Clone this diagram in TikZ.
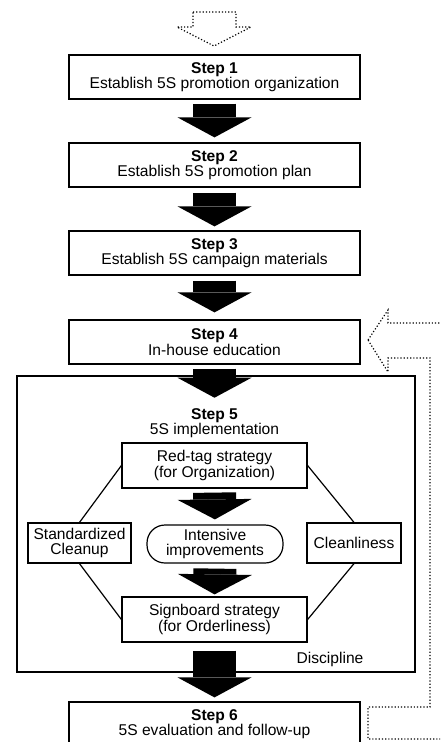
\documentclass[tikz,border=0pt]{standalone}
\usepackage{fontspec}
\setmainfont{Liberation Sans}
\usetikzlibrary{arrows.meta}

\tikzset{
    every node/.style={font=\fontsize{7.8}{7.8}\selectfont, align=center, inner sep=0pt},
    stepbox/.style={draw, line width=0.6pt, minimum width=145.5pt, minimum height=22pt},
    subbox/.style={draw, line width=0.6pt, minimum height=22.5pt},
    bigarrow/.style={line width=21.5pt, -{Triangle[width=37pt, length=10pt, line width=0pt]}},
    outline/.style={line width=0.6pt, densely dotted}
}

\begin{document}
\begin{tikzpicture}[x=0.5pt, y=-0.5pt]
        \useasboundingbox (0,0) rectangle (440,742);
        \clip (0,0) rectangle (440,742);

        % hollow arrow on top
        \draw[outline] (193,12) -- (236,12) -- (236,27) -- (251,27) -- (214,46) -- (177,27) -- (193,27) -- cycle;

        \node[stepbox] (s1) at (214.5,77) {\textbf{Step 1}\\Establish 5S promotion organization};
        \node[stepbox] (s2) at (214.5,165) {\textbf{Step 2}\\Establish 5S promotion plan};
        \node[stepbox] (s3) at (214.5,253) {\textbf{Step 3}\\Establish 5S campaign materials};
        \node[stepbox] (s4) at (214.5,342) {\textbf{Step 4}\\In-house education};

        % step 5 frame
        \node[draw, line width=0.6pt, minimum width=199pt, minimum height=148pt] (impl) at (216,524) {};
        \node (l5) at (214.5,423) {\textbf{Step 5}\\5S implementation};
        \node[subbox, minimum width=92.5pt] (redtag) at (214.5,465.5) {Red-tag strategy\\(for Organization)};
        \node[draw, line width=0.6pt, rounded corners=9pt, minimum width=68pt, minimum height=19pt] (intens) at (215,544) {Intensive\\improvements};
        \node[subbox, minimum width=51.5pt, minimum height=20pt] (std) at (79.5,543) {Standardized\\Cleanup};
        \node[subbox, minimum width=47pt, minimum height=20pt] (clean) at (354,543) {Cleanliness};
        \node[subbox, minimum width=92.5pt] (sign) at (214.5,619.5) {Signboard strategy\\(for Orderliness)};
        \node (disc) at (330,659) {Discipline};

        \node[stepbox] (s6) at (214.5,724) {\textbf{Step 6}\\5S evaluation and follow-up};

        % octagon
        \draw[line width=0.6pt] (std.north) -- (redtag.west);
        \draw[line width=0.6pt] (redtag.east) -- (clean.north);
        \draw[line width=0.6pt] (clean.south) -- (sign.east);
        \draw[line width=0.6pt] (sign.west) -- (std.south);

        % black arrows
        \draw[bigarrow, shorten <=2pt, shorten >=2.5pt] (s1.south) -- (s2.north);
        \draw[bigarrow, shorten <=2.5pt, shorten >=2pt] (s2.south) -- (s3.north);
        \draw[bigarrow, shorten <=2.5pt, shorten >=3.5pt] (s3.south) -- (s4.north);
        \draw[bigarrow, shorten <=2pt, shorten >=5pt] (s4.south) -- (l5.north);
        \draw[bigarrow, shorten <=2pt, shorten >=2.5pt] (redtag.south) -- (intens.north);
        \draw[bigarrow, shorten <=2.5pt, shorten >=1pt] (intens.south) -- (sign.north);
        \draw[bigarrow, shorten <=4pt, shorten >=2pt] (sign.south) -- (s6.north);

        % feedback from step 6 to step 4
        \coordinate (fbtip) at (368,340);
        \draw[outline] (fbtip) -- ++(20,-30) -- ++(0,13) -- ++(77,0) -- ++(0,416) -- ++(-97,0) -- ++(0,-32)
            -- ++(62,0) -- ++(0,-349) -- ++(-42,0) -- ++(0,14) -- cycle;
\end{tikzpicture}
\end{document}
